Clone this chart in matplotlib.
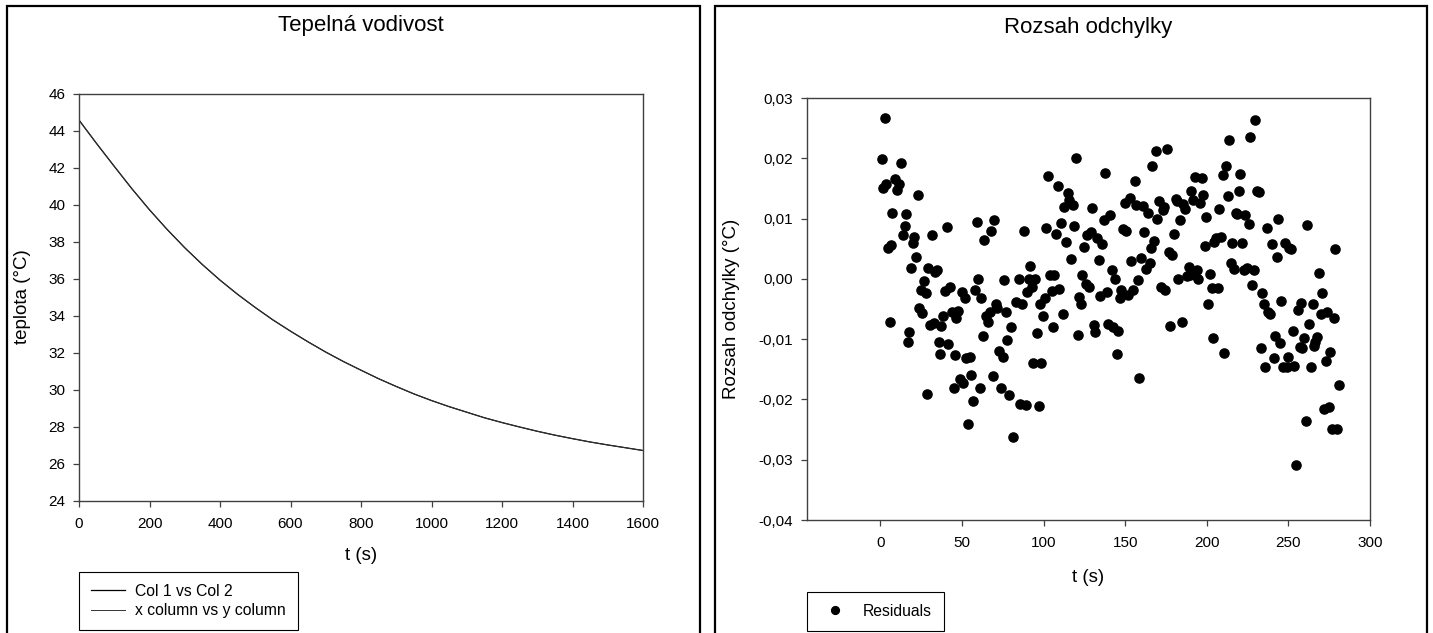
import matplotlib
matplotlib.use("Agg")
import matplotlib.pyplot as plt
from matplotlib.patches import Rectangle
from matplotlib.ticker import FuncFormatter, MultipleLocator

plt.rcParams["font.family"] = ["Liberation Sans", "DejaVu Sans"]

# cooling curve (left panel)
t_cool = [0, 50, 100, 150, 200, 250, 300, 350, 400, 450, 500, 550, 600, 650,
          700, 750, 800, 850, 900, 950, 1000, 1050, 1100, 1150, 1200, 1250,
          1300, 1350, 1400, 1450, 1500, 1550, 1600]
temp_cool = [44.59, 43.32, 42.09, 40.88, 39.74, 38.68, 37.69, 36.78, 35.94,
             35.17, 34.46, 33.79, 33.18, 32.60, 32.05, 31.54, 31.07, 30.61,
             30.19, 29.79, 29.43, 29.10, 28.80, 28.50, 28.24, 28.00, 27.77,
             27.56, 27.37, 27.19, 27.03, 26.88, 26.73]

# fit residuals (right panel)
t_res = [0.9, 1.7, 2.9, 3.4, 4.6, 5.7, 6.3, 7.1, 8.9, 10.3, 11.4, 12.9, 13.7,
         14.9, 15.7, 16.6, 17.7, 18.9, 19.7, 20.6, 21.7, 22.9, 23.7, 24.6, 25.7,
         26.9, 27.7, 28.6, 29.4, 30.6, 31.7, 32.6, 33.7, 34.9, 35.7, 36.6, 37.4,
         38.6, 39.7, 40.6, 41.7, 42.6, 43.7, 44.9, 45.7, 46.6, 47.7, 48.6, 49.7,
         50.6, 51.7, 52.6, 53.7, 54.6, 55.7, 56.9, 58.0, 58.9, 59.7, 60.9, 61.7,
         62.9, 63.7, 64.9, 65.7, 66.9, 67.7, 68.9, 69.7, 70.6, 71.7, 72.9, 73.7,
         74.9, 75.7, 76.9, 77.7, 78.9, 80.0, 81.4, 83.1, 84.9, 85.7, 86.6, 87.7,
         88.9, 89.7, 90.9, 91.7, 92.6, 93.4, 94.6, 95.7, 96.9, 97.7, 98.6, 99.7,
         100.9, 101.7, 102.6, 103.7, 104.9, 105.7, 106.6, 107.7, 108.9, 109.7,
         110.6, 111.7, 112.6, 113.7, 114.9, 115.7, 116.6, 117.7, 118.6, 119.7,
         120.9, 121.7, 122.6, 123.7, 124.9, 125.7, 126.6, 127.7, 128.9, 129.7,
         130.6, 131.7, 132.9, 133.7, 134.6, 135.7, 136.9, 137.7, 138.6, 139.7,
         140.9, 141.7, 142.6, 143.7, 144.9, 145.7, 146.6, 147.7, 148.6, 149.7,
         150.6, 151.7, 152.9, 153.7, 154.6, 155.7, 156.6, 157.7, 158.6, 159.7,
         160.9, 161.7, 162.9, 163.7, 164.9, 165.7, 166.6, 167.7, 168.9, 169.7,
         170.6, 171.7, 172.9, 173.7, 174.6, 175.7, 176.9, 177.7, 178.6, 179.7,
         180.9, 181.7, 182.6, 183.7, 184.9, 185.7, 186.6, 187.7, 188.9, 189.7,
         190.6, 191.7, 192.9, 193.7, 194.6, 195.7, 196.9, 197.7, 198.6, 199.7,
         200.6, 201.7, 202.9, 203.7, 204.6, 205.7, 206.6, 207.7, 208.6, 209.7,
         210.6, 211.7, 212.9, 213.7, 214.6, 215.7, 216.9, 217.7, 218.6, 219.7,
         220.6, 221.7, 222.6, 223.7, 224.9, 225.7, 226.6, 227.7, 228.9, 229.7,
         230.6, 231.7, 232.9, 233.7, 234.9, 235.7, 236.6, 237.7, 238.6, 239.7,
         240.9, 241.7, 242.9, 243.7, 244.9, 245.7, 246.6, 247.7, 248.9, 249.7,
         250.6, 251.7, 252.9, 253.7, 254.6, 255.7, 256.9, 257.7, 258.6, 259.7,
         260.9, 261.7, 262.6, 263.7, 264.9, 265.7, 266.6, 267.7, 268.9, 269.7,
         270.6, 271.7, 272.9, 273.7, 274.6, 275.7, 276.6, 277.7, 278.6, 279.7,
         280.9]
resid = [0.0198, 0.0150, 0.0266, 0.0158, 0.0052, -0.0071, 0.0056, 0.0109,
         0.0165, 0.0148, 0.0158, 0.0193, 0.0073, 0.0088, 0.0108, -0.0104,
         -0.0088, 0.0018, 0.0060, 0.0070, 0.0036, 0.0139, -0.0048, -0.0019,
         -0.0057, -0.0003, -0.0024, -0.0191, 0.0018, -0.0077, 0.0073, -0.0073,
         0.0011, 0.0014, -0.0105, -0.0124, -0.0078, -0.0061, -0.0020, 0.0086,
         -0.0108, -0.0013, -0.0055, -0.0181, -0.0127, -0.0065, -0.0053, -0.0166,
         -0.0022, -0.0172, -0.0031, -0.0132, -0.0241, -0.0129, -0.0159, -0.0203,
         -0.0018, 0.0094, 0.0000, -0.0181, -0.0031, -0.0095, 0.0065, -0.0061,
         -0.0071, -0.0055, 0.0080, -0.0161, 0.0098, -0.0042, -0.0048, -0.0119,
         -0.0181, -0.0129, -0.0002, -0.0055, -0.0102, -0.0193, -0.0080, -0.0263,
         -0.0038, 0.0000, -0.0207, -0.0041, 0.0079, -0.0210, -0.0022, 0.0000,
         0.0022, -0.0014, -0.0139, -0.0001, -0.0090, -0.0211, -0.0041, -0.0139,
         -0.0061, -0.0031, 0.0084, 0.0170, 0.0007, -0.0020, -0.0080, 0.0007,
         0.0075, 0.0154, -0.0016, 0.0092, -0.0058, 0.0119, 0.0061, 0.0143,
         0.0131, 0.0033, 0.0123, 0.0088, 0.0200, -0.0093, -0.0030, -0.0042,
         0.0006, 0.0053, -0.0009, 0.0073, -0.0014, 0.0078, 0.0117, -0.0077,
         -0.0088, 0.0067, 0.0031, -0.0028, 0.0057, 0.0098, 0.0176, -0.0021,
         -0.0075, 0.0106, 0.0014, -0.0080, -0.0001, -0.0125, -0.0087, -0.0032,
         -0.0018, 0.0083, 0.0125, 0.0080, -0.0026, 0.0134, 0.0030, -0.0018,
         0.0163, 0.0123, -0.0002, -0.0164, 0.0035, 0.0121, 0.0078, 0.0016,
         0.0110, 0.0026, 0.0052, 0.0187, 0.0062, 0.0212, 0.0100, 0.0129,
         -0.0014, 0.0115, 0.0119, -0.0019, 0.0216, 0.0045, -0.0078, 0.0040,
         0.0075, 0.0133, 0.0129, -0.0001, 0.0097, -0.0071, 0.0124, 0.0116,
         0.0004, 0.0020, 0.0006, 0.0146, 0.0131, 0.0169, 0.0014, -0.0001,
         0.0126, 0.0168, 0.0139, 0.0055, 0.0102, -0.0041, 0.0008, -0.0015,
         -0.0098, 0.0061, 0.0068, -0.0015, 0.0116, 0.0069, 0.0172, -0.0123,
         0.0187, 0.0137, 0.0230, 0.0026, 0.0059, 0.0016, 0.0110, 0.0107,
         0.0145, 0.0174, 0.0059, 0.0015, 0.0106, 0.0018, 0.0091, 0.0236,
         -0.0011, 0.0014, 0.0264, 0.0146, 0.0144, -0.0114, -0.0024, -0.0042,
         -0.0146, 0.0084, -0.0055, -0.0058, 0.0057, -0.0132, -0.0094, 0.0036,
         0.0100, -0.0106, -0.0036, -0.0147, 0.0059, -0.0147, -0.0130, 0.0052,
         0.0050, -0.0086, -0.0144, -0.0309, -0.0051, -0.0113, -0.0040, -0.0114,
         -0.0098, -0.0236, 0.0090, -0.0075, -0.0147, -0.0041, -0.0112, -0.0105,
         -0.0096, 0.0009, -0.0058, -0.0024, -0.0216, -0.0137, -0.0055, -0.0213,
         -0.0122, -0.0249, -0.0065, 0.0050, -0.0249, -0.0176]

W, H = 1433, 633
SPINE = "#404040"


def fx(x):
    return x / W


def fy(y):
    return 1 - y / H


def comma(v, _):
    return f"{round(v, 2) + 0.0:.2f}".replace(".", ",")


def style_axes(ax):
    for s in ax.spines.values():
        s.set_color(SPINE)
        s.set_linewidth(1.0)
    ax.tick_params(axis="both", direction="out", length=4.3, width=0.9,
                   color=SPINE, labelsize=11, top=False, right=False)
    ax.tick_params(axis="y", pad=5.5)
    ax.tick_params(axis="x", pad=7)


fig = plt.figure(figsize=(W / 100, H / 100), dpi=100)

# outer panel frames (run past the bottom edge)
for x0, x1 in [(6.5, 700), (715, 1426.5)]:
    fig.patches.append(Rectangle((fx(x0), fy(660)), fx(x1) - fx(x0), fy(5.7) - fy(660),
                                 transform=fig.transFigure, fill=False,
                                 ec="black", lw=1.6))

# left panel: temperature vs time
ax1 = fig.add_axes([fx(79), fy(501), fx(643) - fx(79), fy(94) - fy(501)])
ax1.plot(t_cool, temp_cool, color="black", lw=0.9, label="Col 1 vs Col 2")
ax1.plot(t_cool, temp_cool, color="#333333", lw=0.7, label="x column vs y column")
ax1.set_xlim(0, 1600)
ax1.set_ylim(24, 46)
ax1.xaxis.set_major_locator(MultipleLocator(200))
ax1.yaxis.set_major_locator(MultipleLocator(2))
style_axes(ax1)
fig.text(fx(361), fy(25), "Tepelná vodivost", ha="center", va="center", fontsize=16)
fig.text(fx(361), fy(555), "t (s)", ha="center", va="center", fontsize=13.5)
fig.text(fx(23), fy(297), "teplota (°C)", ha="center", va="center",
         rotation=90, fontsize=13.5)
leg1 = ax1.legend(loc="upper left", bbox_to_anchor=(fx(79), fy(572)),
                  bbox_transform=fig.transFigure, borderaxespad=0, fontsize=11.3,
                  borderpad=0.76, handlelength=2.17, handletextpad=0.64,
                  labelspacing=0.27, fancybox=False, framealpha=1)
leg1.get_frame().set_edgecolor("black")
leg1.get_frame().set_linewidth(0.8)

# right panel: residuals
ax2 = fig.add_axes([fx(807), fy(520), fx(1370) - fx(807), fy(98) - fy(520)])
ax2.plot(t_res, resid, ls="none", marker="o", ms=6.6, color="black",
         mec="black", label="Residuals")
ax2.set_xlim(-45, 300)
ax2.set_ylim(-0.04, 0.03)
ax2.set_xticks([0, 50, 100, 150, 200, 250, 300])
ax2.yaxis.set_major_locator(MultipleLocator(0.01))
ax2.yaxis.set_major_formatter(FuncFormatter(comma))
style_axes(ax2)
fig.text(fx(1088), fy(28), "Rozsah odchylky", ha="center", va="center", fontsize=16)
fig.text(fx(1088), fy(577), "t (s)", ha="center", va="center", fontsize=13.5)
fig.text(fx(732), fy(309), "Rozsah odchylky (°C)", ha="center", va="center",
         rotation=90, fontsize=13.5)
leg2 = ax2.legend(loc="upper left", bbox_to_anchor=(fx(807), fy(592)),
                  bbox_transform=fig.transFigure, borderaxespad=0, fontsize=11.3,
                  borderpad=0.76, handlelength=2.04, handletextpad=0.76,
                  markerscale=0.85, fancybox=False, framealpha=1)
leg2.get_frame().set_edgecolor("black")
leg2.get_frame().set_linewidth(0.8)

fig.savefig("out.png", dpi=100)
